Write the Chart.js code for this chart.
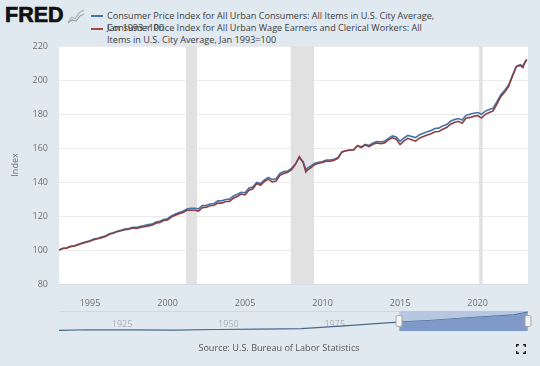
<!DOCTYPE html>
<html>
<head>
<meta charset="utf-8">
<script src="https://cdn.jsdelivr.net/npm/chart.js@4"></script>
<style>
  html, body { margin: 0; padding: 0; }
  body { width: 540px; height: 366px; background: #e1e9f0; position: relative; overflow: hidden; font-family: "Open Sans", sans-serif; }
  canvas { position: absolute; left: 0; }
  .t { position: absolute; white-space: nowrap; font-size: 9.1px; line-height: 12px; color: #3c3c3c; }
  .key { position: absolute; left: 91px; width: 12px; height: 1.5px; }
</style>
</head>
<body>
<div class="t" style="left:5px;top:3px;font:bold 21.5px/24px 'Liberation Sans',sans-serif;color:#111;-webkit-text-stroke:0.7px #111">FRED</div>
<svg style="position:absolute;left:67px;top:8px" width="18" height="16" viewBox="0 0 18 16">
  <path d="M1 14 L5 9 L8 11 L12 5 L17 2" fill="none" stroke="#a9b8a4" stroke-width="1.2"/>
  <path d="M1 15 L5 12 L9 13 L13 8 L17 6" fill="none" stroke="#9aa6b2" stroke-width="1.2"/>
</svg>
<div class="key" style="top:15px;background:#4572a7"></div>
<div class="key" style="top:28px;background:#aa4643"></div>
<div class="t" style="left:107px;top:10px">Consumer Price Index for All Urban Consumers: All Items in U.S. City Average,</div>
<div class="t" style="left:107px;top:22px">Jan 1993=100</div>
<div class="t" style="left:107px;top:22px">Consumer Price Index for All Urban Wage Earners and Clerical Workers: All</div>
<div class="t" style="left:107px;top:34px">Items in U.S. City Average, Jan 1993=100</div>
<canvas id="chart_main" style="top:0" width="540" height="310"></canvas>
<canvas id="chart_nav" style="top:305px" width="540" height="30"></canvas>
<div class="t" style="left:0;width:558px;text-align:center;top:342px;color:#555">Source: U.S. Bureau of Labor Statistics</div>
<svg style="position:absolute;left:516px;top:344px" width="10" height="10" viewBox="0 0 10 10">
  <path d="M0.7 3 V0.7 H3 M7 0.7 H9.3 V3 M9.3 7 V9.3 H7 M3 9.3 H0.7 V7" fill="none" stroke="#222" stroke-width="1.4"/>
</svg>
<script>
const years = [
  1993, 1993.25, 1993.5, 1993.75,
  1994, 1994.25, 1994.5, 1994.75,
  1995, 1995.25, 1995.5, 1995.75,
  1996, 1996.25, 1996.5, 1996.75,
  1997, 1997.25, 1997.5, 1997.75,
  1998, 1998.25, 1998.5, 1998.75,
  1999, 1999.25, 1999.5, 1999.75,
  2000, 2000.25, 2000.5, 2000.75,
  2001, 2001.25, 2001.5, 2001.75,
  2002, 2002.25, 2002.5, 2002.75,
  2003, 2003.25, 2003.5, 2003.75,
  2004, 2004.25, 2004.5, 2004.75,
  2005, 2005.25, 2005.5, 2005.75,
  2006, 2006.25, 2006.5, 2006.75,
  2007, 2007.25, 2007.5, 2007.75,
  2008, 2008.25, 2008.5, 2008.75, 2008.92,
  2009, 2009.25, 2009.5, 2009.75,
  2010, 2010.25, 2010.5, 2010.75,
  2011, 2011.25, 2011.5, 2011.75,
  2012, 2012.25, 2012.5, 2012.75,
  2013, 2013.25, 2013.5, 2013.75,
  2014, 2014.25, 2014.5, 2014.75,
  2015, 2015.25, 2015.5, 2015.75,
  2016, 2016.25, 2016.5, 2016.75,
  2017, 2017.25, 2017.5, 2017.75,
  2018, 2018.25, 2018.5, 2018.75,
  2019, 2019.25, 2019.5, 2019.75,
  2020, 2020.25, 2020.5, 2020.75,
  2021, 2021.25, 2021.5, 2021.75,
  2022, 2022.25, 2022.5, 2022.75, 2022.92,
  2023, 2023.17
]
const cpiUrban = [
  100, 101, 101.3, 102.2,
  102.5, 103.4, 104.1, 104.8,
  105.4, 106.5, 106.9, 107.6,
  108.3, 109.6, 110.1, 111,
  111.6, 112.3, 112.6, 113.3,
  113.3, 114, 114.4, 115,
  115.2, 116.5, 116.9, 118,
  118.4, 120.1, 121.2, 122,
  122.8, 124.1, 124.5, 124.6,
  124.2, 126.1, 126.3, 127.1,
  127.4, 128.9, 129, 129.7,
  129.9, 131.8, 132.8, 133.9,
  133.7, 136.5, 137, 139.7,
  139.1, 141.3, 142.7, 141.5,
  141.9, 145, 146.1, 146.5,
  148, 150.6, 154.3, 151.9, 147.2,
  148, 149.5, 151, 151.6,
  152, 152.9, 152.9, 153.4,
  154.4, 157.7, 158.4, 158.8,
  159, 161.4, 160.7, 162.2,
  161.5, 163, 163.8, 163.7,
  164, 165.7, 167.1, 166.5,
  163.9, 165.9, 167.4, 166.8,
  166.1, 167.8, 168.7, 169.5,
  170.3, 171.5, 171.7, 173,
  173.8, 175.7, 176.7, 177.3,
  176.5, 179.2, 179.9, 180.4,
  180.9, 179.8, 181.7, 182.6,
  183.4, 187.3, 191.4, 194,
  197.1, 202.7, 208, 209, 208.1,
  209.8, 212.2
]
const cpiWorkers = [
  100, 100.9, 101, 102,
  102.3, 103.1, 103.9, 104.6,
  105.1, 106.1, 106.6, 107.2,
  108, 109.3, 109.8, 110.8,
  111.3, 111.9, 112.2, 112.9,
  112.7, 113.3, 113.7, 114.2,
  114.5, 115.7, 116.2, 117.4,
  117.7, 119.4, 120.4, 121.3,
  122.1, 123.4, 123.4, 123.4,
  122.9, 124.9, 125.2, 126,
  126.3, 127.6, 127.6, 128.5,
  128.6, 130.5, 131.5, 132.9,
  132.4, 135.2, 136, 139.1,
  138.1, 140.3, 141.7, 140,
  140.6, 143.9, 145, 145.7,
  147.3, 150.4, 154.9, 151.3, 145.9,
  146.9, 148.4, 150.3, 151,
  151.5, 152.3, 152.2, 152.8,
  154, 157.7, 158.4, 158.7,
  158.8, 161.3, 160.2, 161.8,
  160.8, 162.2, 162.9, 162.6,
  163, 164.8, 166, 165.2,
  162, 164.2, 165.7, 164.9,
  164, 165.8, 166.7, 167.6,
  168.4, 169.6, 169.7, 171,
  172, 174, 175, 175.7,
  174.6, 177.5, 178, 178.6,
  179.1, 177.6, 179.8, 180.9,
  181.8, 186, 190.3, 193,
  196.2, 202.3, 207.9, 208.6, 207.3,
  209.3, 211.8
]
const recessions = [[2001.2, 2001.9], [2007.95, 2009.45], [2020.1, 2020.33]]
const yTicks = [80, 100, 120, 140, 160, 180, 200, 220]
const xTicks = [1995, 2000, 2005, 2010, 2015, 2020]

const navYears = [1913, 1920, 1930, 1940, 1950, 1960, 1970, 1980, 1990, 1993, 2000, 2010, 2020, 2023.17]
const navValues = [6.9, 14, 11.7, 9.8, 16.8, 20.8, 27.2, 57.8, 91.7, 100, 118.4, 152, 180.9, 212.2]
const navLabels = [1925, 1950, 1975, 2000]

const toPoints = (xs, ys) => xs.map((x, i) => ({ x: x, y: ys[i] }))

// white plot and the grey recession bars, under the lines
const plotBackground = {
  id: "plotBackground",
  beforeDraw(chart) {
    const { ctx, chartArea: a } = chart
    ctx.fillStyle = "#ffffff"
    ctx.fillRect(a.left, a.top, a.right - a.left, a.bottom - a.top)
  },
  beforeDatasetsDraw(chart) {
    const { ctx, chartArea: a, scales } = chart
    ctx.fillStyle = "#e1e1e1"
    for (const r of recessions) {
      const x0 = scales.x.getPixelForValue(r[0])
      const x1 = scales.x.getPixelForValue(r[1])
      ctx.fillRect(x0, a.top, x1 - x0, a.bottom - a.top)
    }
  }
}

new Chart(document.getElementById("chart_main").getContext("2d"), {
  type: "line",
  data: {
    datasets: [
      // order: the workers line sits on top of the urban one
      { data: toPoints(years, cpiUrban), borderColor: "#4572a7", borderWidth: 1.6, pointRadius: 0, order: 2 },
      { data: toPoints(years, cpiWorkers), borderColor: "#8a3f44", borderWidth: 1.6, pointRadius: 0, order: 1 }
    ]
  },
  options: {
    responsive: false,
    animation: false,
    layout: { padding: { top: 46, right: 12, left: 0, bottom: 0 } },
    plugins: { legend: { display: false }, tooltip: { enabled: false } },
    scales: {
      x: {
        type: "linear",
        min: 1993,
        max: 2023.25,
        afterBuildTicks: scale => { scale.ticks = xTicks.map(v => ({ value: v })) },
        afterFit: scale => { scale.height = 26 },
        grid: { display: false },
        border: { color: "#d5dce3" },
        ticks: { color: "#6e6e6e", padding: 6, font: { family: "Open Sans", size: 9 }, maxRotation: 0, callback: v => String(v) }
      },
      y: {
        min: 80,
        max: 220,
        afterBuildTicks: scale => { scale.ticks = yTicks.map(v => ({ value: v })) },
        afterFit: scale => { scale.width = 59 },
        grid: { color: "#ebebeb", drawTicks: false },
        border: { display: false },
        title: { display: true, text: "Index", color: "#6e6e6e", font: { family: "Open Sans", size: 9 }, padding: { top: 10, bottom: 0 } },
        ticks: { color: "#6e6e6e", padding: 11, font: { family: "Open Sans", size: 9 } }
      }
    }
  },
  plugins: [plotBackground]
})

// navigator strip: selection band, faint year labels, handles
const navDecor = {
  id: "navDecor",
  beforeDatasetsDraw(chart) {
    const { ctx, chartArea: a, scales } = chart
    const left = scales.x.getPixelForValue(1993)
    ctx.strokeStyle = "#d0d8e0"
    ctx.beginPath()
    ctx.moveTo(a.left, a.top + 0.5)
    ctx.lineTo(left, a.top + 0.5)
    ctx.stroke()
    ctx.fillStyle = "#b7c7e2"
    ctx.fillRect(left, a.top, a.right - left, a.bottom - a.top)
    ctx.font = "9px 'Open Sans'"
    ctx.fillStyle = "#a9afb6"
    ctx.textAlign = "center"
    ctx.textBaseline = "middle"
    for (const y of navLabels) ctx.fillText(String(y), scales.x.getPixelForValue(y) + 12, a.top + 13)
  },
  afterDatasetsDraw(chart) {
    const { ctx, chartArea: a, scales } = chart
    for (const v of [1993, 2023.17]) {
      const x = Math.round(scales.x.getPixelForValue(v))
      ctx.fillStyle = "#f4f4f4"
      ctx.strokeStyle = "#a5a5a5"
      ctx.beginPath()
      ctx.roundRect(x - 3, a.top + 4.5, 6, 11, 1.5)
      ctx.fill()
      ctx.stroke()
    }
  }
}

const navStart = navYears.indexOf(1993)

new Chart(document.getElementById("chart_nav").getContext("2d"), {
  type: "line",
  data: {
    datasets: [
      {
        data: toPoints(navYears.slice(navStart), navValues.slice(navStart)),
        borderWidth: 0, pointRadius: 0, fill: "origin", backgroundColor: "#7f9ac9"
      },
      { data: toPoints(navYears, navValues), borderColor: "#47688f", borderWidth: 1.2, pointRadius: 0 }
    ]
  },
  options: {
    responsive: false,
    animation: false,
    layout: { padding: { top: 6, right: 12, left: 59, bottom: 4 } },
    plugins: { legend: { display: false }, tooltip: { enabled: false } },
    scales: {
      x: { type: "linear", min: 1913, max: 2023.25, display: false },
      y: { min: 0, max: 225, display: false }
    }
  },
  plugins: [navDecor]
})
</script>
</body>
</html>
